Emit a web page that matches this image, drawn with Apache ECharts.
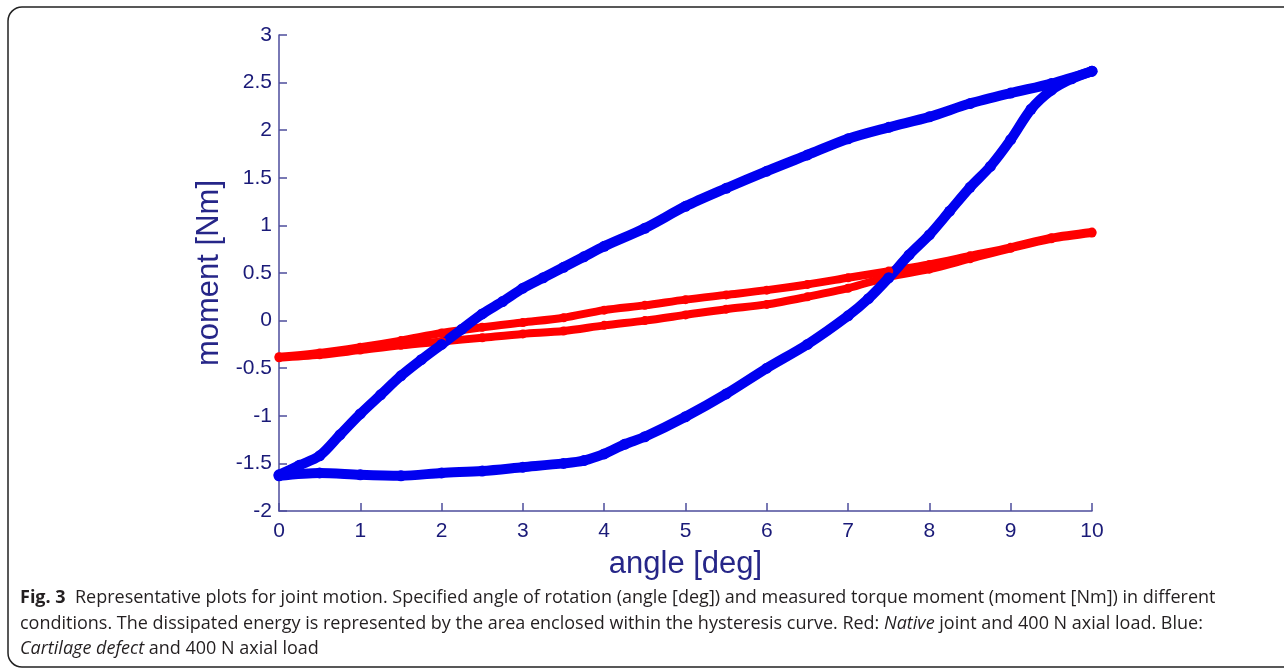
<!DOCTYPE html>
<html>
<head>
<meta charset="utf-8">
<title>Fig. 3 hysteresis</title>
<script src="https://cdn.jsdelivr.net/npm/echarts@6/dist/echarts.min.js"></script>
<style>
  html, body { margin: 0; padding: 0; background: #fff; }
  #chart { width: 1284px; height: 672px; }
</style>
</head>
<body>
<div id="chart"></div>
<script>
// angle [deg], moment [Nm]
const redUpper = [
  [0, -0.38], [0.5, -0.34], [1, -0.28], [1.5, -0.21], [2, -0.13], [2.5, -0.07],
  [3, -0.02], [3.5, 0.03], [4, 0.11], [4.5, 0.16], [5, 0.22], [5.5, 0.27],
  [6, 0.32], [6.5, 0.38], [7, 0.45], [7.5, 0.52], [8, 0.59], [8.5, 0.68],
  [9, 0.77], [9.5, 0.87], [10, 0.93]
]
const redLower = [
  [0, -0.39], [0.5, -0.36], [1, -0.31], [1.5, -0.26], [2, -0.22], [2.5, -0.18],
  [3, -0.14], [3.5, -0.11], [4, -0.05], [4.5, 0.0], [5, 0.06], [5.5, 0.12],
  [6, 0.17], [6.5, 0.25], [7, 0.34], [7.5, 0.46], [8, 0.54], [8.5, 0.65],
  [9, 0.76], [9.5, 0.86], [10, 0.92]
]
const blueUpper = [
  [0, -1.62], [0.25, -1.52], [0.5, -1.42], [0.75, -1.2], [1, -0.98], [1.25, -0.78],
  [1.5, -0.58], [1.75, -0.41], [2, -0.25], [2.25, -0.09], [2.5, 0.07], [2.75, 0.2],
  [3, 0.34], [3.25, 0.45], [3.5, 0.56], [3.75, 0.67], [4, 0.78], [4.5, 0.97],
  [5, 1.2], [5.5, 1.39], [6, 1.57], [6.5, 1.74], [7, 1.91], [7.5, 2.03],
  [8, 2.14], [8.5, 2.28], [9, 2.39], [9.5, 2.49], [10, 2.62]
]
const blueLower = [
  [0, -1.63], [0.5, -1.6], [1, -1.62], [1.5, -1.63], [2, -1.6], [2.5, -1.58],
  [3, -1.54], [3.5, -1.5], [3.75, -1.47], [4, -1.4], [4.25, -1.3], [4.5, -1.22],
  [5, -1.01], [5.5, -0.77], [6, -0.5], [6.5, -0.25], [7, 0.05], [7.25, 0.23],
  [7.5, 0.45], [7.75, 0.69], [8, 0.9], [8.25, 1.15], [8.5, 1.4], [8.75, 1.62],
  [9, 1.9], [9.25, 2.22], [9.5, 2.42], [9.75, 2.54], [10, 2.62]
]
const captionLines = [
  '{b|Fig. 3}  Representative plots for joint motion. Specified angle of rotation (angle [deg]) and measured torque moment (moment [Nm]) in different',
  'conditions. The dissipated energy is represented by the area enclosed within the hysteresis curve. Red: {i|Native} joint and 400 N axial load. Blue:',
  '{i|Cartilage defect} and 400 N axial load'
]

const axisColor = '#4d4d9c'
const labelColor = '#1a1a78'

function branch(data, color, width) {
  return {
    type: 'line',
    data: data,
    smooth: 0.3,
    symbol: 'circle',
    symbolSize: width + 1,
    showSymbol: true,
    silent: true,
    itemStyle: { color: color },
    lineStyle: { color: color, width: width },
    animation: false
  }
}

const captionStyle = {
  fontFamily: 'Open Sans',
  fontSize: 18,
  fill: '#231f20',
  rich: {
    b: { fontFamily: 'Open Sans', fontSize: 18, fontWeight: 'bold', fill: '#231f20' },
    i: { fontFamily: 'Open Sans', fontSize: 18, fontStyle: 'italic', fill: '#231f20' }
  }
}

const myChart = echarts.init(document.getElementById('chart'))
const option = {
  backgroundColor: '#fff',
  animation: false,
  grid: { left: 279, right: 192, top: 35, bottom: 161 },
  xAxis: {
    type: 'value',
    min: 0,
    max: 10,
    interval: 1,
    name: 'angle [deg]',
    nameLocation: 'middle',
    nameGap: 38,
    nameTextStyle: { color: '#262688', fontSize: 31, fontFamily: 'Liberation Sans' },
    axisLine: { onZero: false, lineStyle: { color: axisColor, width: 1.5 } },
    axisTick: { inside: true, length: 8, lineStyle: { color: axisColor, width: 1.5 } },
    axisLabel: { color: labelColor, fontSize: 21, fontFamily: 'Liberation Sans', margin: 10 },
    splitLine: { show: false }
  },
  yAxis: {
    type: 'value',
    min: -2,
    max: 3,
    interval: 0.5,
    name: 'moment [Nm]',
    nameLocation: 'middle',
    nameGap: 50,
    nameTextStyle: { color: '#262688', fontSize: 31, fontFamily: 'Liberation Sans' },
    axisLine: { show: true, onZero: false, lineStyle: { color: axisColor, width: 1.5 } },
    axisTick: { show: true, inside: true, length: 8, lineStyle: { color: axisColor, width: 1.5 } },
    axisLabel: { color: labelColor, fontSize: 21, fontFamily: 'Liberation Sans', margin: 7 },
    splitLine: { show: false }
  },
  series: [
    branch(redUpper, '#ff0000', 8),
    branch(redLower, '#ff0000', 8),
    branch(blueUpper, '#0000f0', 10),
    branch(blueLower, '#0000f0', 10)
  ],
  graphic: [
    {
      type: 'rect',
      silent: true,
      shape: { x: 8, y: 7, width: 1320, height: 660, r: 14 },
      style: { fill: 'none', stroke: '#222', lineWidth: 1.5 }
    },
    {
      type: 'text', left: 20, top: 589, silent: true,
      style: Object.assign({ text: captionLines[0] }, captionStyle)
    },
    {
      type: 'text', left: 20, top: 615, silent: true,
      style: Object.assign({ text: captionLines[1] }, captionStyle)
    },
    {
      type: 'text', left: 20, top: 640, silent: true,
      style: Object.assign({ text: captionLines[2] }, captionStyle)
    }
  ]
}
myChart.setOption(option)
</script>
</body>
</html>
